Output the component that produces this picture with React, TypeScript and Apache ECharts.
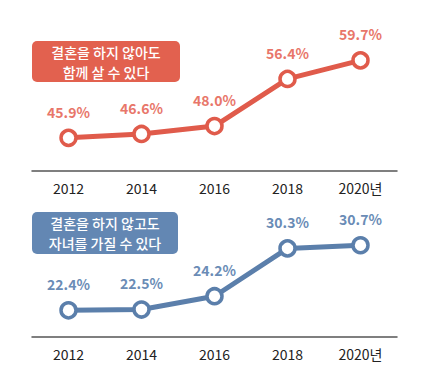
import React, { useEffect, useRef } from "react";
import * as echarts from "echarts";

const years = ["2012", "2014", "2016", "2018", "2020년"];
const cohabitValues = [45.9, 46.6, 48.0, 56.4, 59.7];
const childValues = [22.4, 22.5, 24.2, 30.3, 30.7];
const cohabitTitle = ["결혼을 하지 않아도", "함께 살 수 있다"];
const childTitle = ["결혼을 하지 않고도", "자녀를 가질 수 있다"];

const RED = "#e05b4b";
const RED_LABEL = "#e8766a";
const RED_BOX = "#e2614f";
const BLUE = "#5b7fab";
const BLUE_LABEL = "#6a8cb6";
const BLUE_BOX = "#6387b3";
const FONT = "'Noto Sans CJK KR', 'Noto Sans', sans-serif";

export default function App() {
  const ref = useRef<HTMLDivElement>(null);
  useEffect(() => {
    if (!ref.current) return;
    const chart = echarts.init(ref.current, null, { renderer: "svg" });
    const xAxisBase = (gridIndex: number) => ({
      type: "category" as const,
      gridIndex,
      data: years,
      boundaryGap: true,
      axisLine: { lineStyle: { color: "#555", width: 1.5 } },
      axisTick: { show: false },
      axisLabel: { color: "#222", fontSize: 14, fontFamily: FONT, margin: 10, fontWeight: "normal" as const },
      splitLine: { show: false },
    });
    const yAxisBase = (gridIndex: number, min: number, max: number) => ({
      type: "value" as const,
      gridIndex,
      min,
      max,
      show: false,
      splitLine: { show: false },
    });
    const seriesBase = (idx: number, data: number[], color: string, labelColor: string) => ({
      type: "line" as const,
      xAxisIndex: idx,
      yAxisIndex: idx,
      data,
      symbol: "circle",
      symbolSize: 15,
      lineStyle: { color, width: 5 },
      itemStyle: { color: "#fff", borderColor: color, borderWidth: 3.5 },
      label: {
        show: true,
        position: "top" as const,
        distance: 10,
        color: labelColor,
        fontSize: 14,
        fontWeight: "bold" as const,
        fontFamily: FONT,
        formatter: (p: any) => `${Number(p.value).toFixed(1)}%`,
      },
      z: 3,
    });
    const box = (x: number, y: number, w: number, h: number, fill: string, lines: string[]) => ({
      type: "group" as const,
      children: [
        { type: "rect" as const, shape: { x, y, width: w, height: h, r: 5 }, style: { fill } },
        ...lines.map((t, i) => ({
          type: "text" as const,
          x: x + w / 2,
          y: y + h / 2 + (i - (lines.length - 1) / 2) * 20,
          style: {
            text: t,
            fill: "#fff",
            font: `500 14px ${FONT}`,
            align: "center",
            verticalAlign: "middle",
          },
        })),
      ],
    });
    chart.setOption({
      animation: false,
      backgroundColor: "#fff",
      grid: [
        { left: 32, right: 33, top: 25, height: 146 },
        { left: 32, right: 33, top: 188, height: 149 },
      ],
      xAxis: [xAxisBase(0), xAxisBase(1)],
      yAxis: [yAxisBase(0, 40, 66), yAxisBase(1, 19, 38)],
      series: [
        seriesBase(0, cohabitValues, RED, RED_LABEL),
        seriesBase(1, childValues, BLUE, BLUE_LABEL),
      ],
      graphic: [
        box(32, 41, 148, 41, RED_BOX, cohabitTitle),
        box(32, 212, 146, 42, BLUE_BOX, childTitle),
      ],
    });
    return () => chart.dispose();
  }, []);
  return <div ref={ref} style={{ width: 430, height: 376, margin: -8 }} />;
}
